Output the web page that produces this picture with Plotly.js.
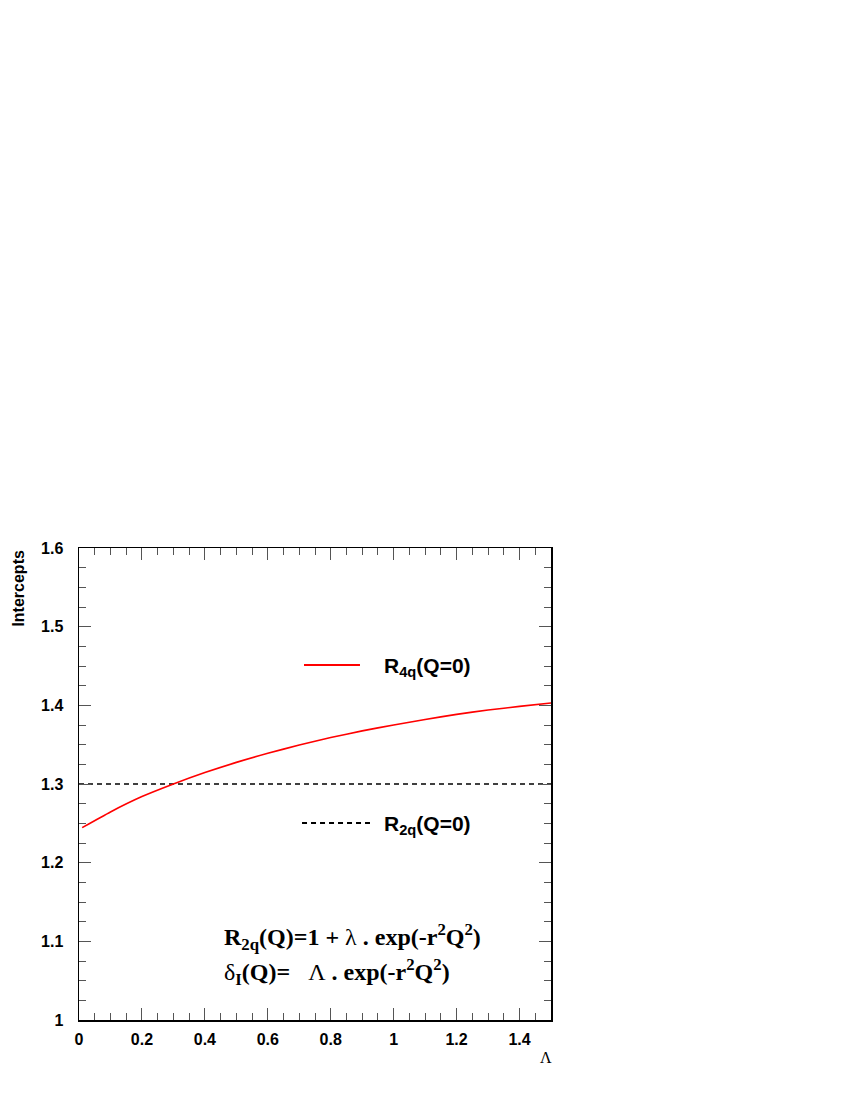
<!DOCTYPE html>
<html>
<head>
<meta charset="utf-8">
<script src="https://cdn.plot.ly/plotly-3.0.1.min.js"></script>
<style>
  body { margin: 0; background: #fff; }
  #plot { width: 850px; height: 1100px; }
</style>
</head>
<body>
<div id="plot"></div>
<script>
// values
var lambdaVals = [0.01, 0.1, 0.2, 0.3, 0.4, 0.5, 0.6, 0.7, 0.8, 0.9, 1.0, 1.1, 1.2, 1.3, 1.4, 1.5];
var r4qVals = [1.2445, 1.2645, 1.284, 1.300, 1.3145, 1.3275, 1.339, 1.3495, 1.359, 1.3675, 1.375, 1.382, 1.3885, 1.394, 1.3987, 1.403];
var r2qX = [0, 1.5];
var r2qVals = [1.3, 1.3];

var xTicks = [0, 0.2, 0.4, 0.6, 0.8, 1, 1.2, 1.4];
var yTicks = [1, 1.1, 1.2, 1.3, 1.4, 1.5, 1.6];

var tickFont = { family: 'Liberation Sans, Arial, sans-serif', size: 16, color: '#000', weight: 'bold' };

var r4q = {
    x: lambdaVals,
    y: r4qVals,
    mode: 'lines',
    line: { color: 'rgb(255,0,0)', width: 1.6, shape: 'spline', smoothing: 0.6 },
    name: 'R4q',
    showlegend: false,
    type: 'scatter'
};

var r2q = {
    x: r2qX,
    y: r2qVals,
    mode: 'lines',
    line: { color: '#000', width: 1.6, dash: '5px,4px' },
    name: 'R2q',
    showlegend: false,
    type: 'scatter'
};

function axis(range, ticks, minorStep) {
    return {
        range: range,
        tickvals: ticks,
        ticktext: ticks.map(String),
        ticks: 'inside',
        ticklen: 12,
        tickwidth: 1,
        tickcolor: '#555',
        showline: true,
        linecolor: '#000',
        linewidth: 1.5,
        mirror: 'allticks',
        showgrid: false,
        zeroline: false,
        tickfont: tickFont,
        minor: { dtick: minorStep, ticks: 'inside', ticklen: 7, tickwidth: 1, tickcolor: '#555', showgrid: false }
    };
}

var xaxis = axis([0, 1.5], xTicks, 0.05);
xaxis.ticklabelstandoff = 4;
var yaxis = axis([1, 1.6], yTicks, 0.025);
yaxis.ticklabelstandoff = 11;

var legendFont = { family: 'Liberation Sans, Arial, sans-serif', size: 21, color: '#000', weight: 'bold' };
var formulaFont = { family: 'Liberation Serif, Times New Roman, serif', size: 24, color: '#000', weight: 'bold' };

var layout = {
    width: 850,
    height: 1100,
    margin: { l: 79, r: 299, t: 548, b: 80 },
    paper_bgcolor: '#fff',
    plot_bgcolor: '#fff',
    xaxis: xaxis,
    yaxis: yaxis,
    showlegend: false,
    shapes: [
        { type: 'line', xref: 'paper', yref: 'paper', x0: 0.4767, x1: 0.5953, y0: 0.752, y1: 0.752,
          line: { color: 'rgb(255,0,0)', width: 2 } },
        { type: 'line', xref: 'paper', yref: 'paper', x0: 0.4725, x1: 0.6165, y0: 0.4174, y1: 0.4174,
          line: { color: '#000', width: 2, dash: '5px,4px' } }
    ],
    annotations: [
        { xref: 'paper', yref: 'paper', x: 0.642, y: 0.748, xanchor: 'left', yanchor: 'middle',
          text: 'R<sub>4q</sub>(Q=0)', showarrow: false, font: legendFont },
        { xref: 'paper', yref: 'paper', x: 0.642, y: 0.413, xanchor: 'left', yanchor: 'middle',
          text: 'R<sub>2q</sub>(Q=0)', showarrow: false, font: legendFont },
        { xref: 'paper', yref: 'paper', x: 0.303, y: 0.176, xanchor: 'left', yanchor: 'middle',
          text: 'R<sub>2q</sub>(Q)=1 + <span style="font-weight:normal">λ</span> . exp(-r<sup>2</sup>Q<sup>2</sup>)',
          showarrow: false, font: formulaFont },
        { xref: 'paper', yref: 'paper', x: 0.303, y: 0.102, xanchor: 'left', yanchor: 'middle',
          text: '<span style="font-weight:normal">δ</span><sub>I</sub>(Q)=   <span style="font-weight:normal">Λ</span> . exp(-r<sup>2</sup>Q<sup>2</sup>)',
          showarrow: false, font: formulaFont },
        { xref: 'paper', yref: 'paper', x: -0.129, y: 1.0, xanchor: 'center', yanchor: 'top', textangle: -90,
          text: 'Intercepts', showarrow: false,
          font: { family: 'Liberation Sans, Arial, sans-serif', size: 16, color: '#000', weight: 'bold' } },
        { xref: 'paper', yref: 'paper', x: 0.989, y: -0.08, xanchor: 'center', yanchor: 'middle',
          text: 'Λ', showarrow: false,
          font: { family: 'Liberation Serif, Times New Roman, serif', size: 16, color: '#000' } }
    ]
};

Plotly.newPlot('plot', [r2q, r4q], layout, { displayModeBar: false, staticPlot: true });
</script>
</body>
</html>
